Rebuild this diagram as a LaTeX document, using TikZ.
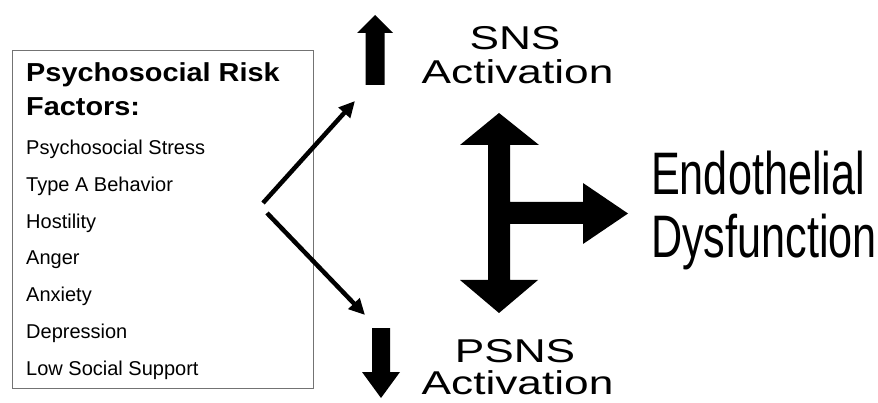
\documentclass[tikz,border=0pt]{standalone}
\usepackage{fontspec}
\setmainfont{Liberation Sans}
\usetikzlibrary{arrows.meta}
\begin{document}
\begin{tikzpicture}[x=1pt,y=-1pt,
  listitem/.style={anchor=base west,inner sep=0pt,font=\fontsize{20}{20}\selectfont},
  titletext/.style={anchor=base west,inner sep=0pt,xscale=1.11,font=\fontsize{26}{26}\selectfont\bfseries},
  acttext/.style={anchor=base,inner sep=0pt,xscale=1.34,font=\fontsize{33}{33}\selectfont},
  endotext/.style={anchor=base west,inner sep=0pt,xscale=0.72,font=\fontsize{60}{60}\selectfont},
  thinarrow/.style={line width=4.5pt,-{Triangle[length=16pt,width=15pt]}},
  fatarrow/.style={fill=black}]
\useasboundingbox (0,0) rectangle (878,403);
\fill[white] (0,0) rectangle (878,403);
% box
\node (box) [draw=black!55,line width=1.3pt,minimum width=301pt,minimum height=338pt,anchor=north west,inner sep=0pt] at (12,50) {};
\node (t1) [titletext] at (26,82) {Psychosocial Risk};
\node (t2) [titletext] at (26,116) {Factors:};
\node (l1) [listitem] at (26,155) {Psychosocial Stress};
\node (l2) [listitem] at (26,191.7) {Type A Behavior};
\node (l3) [listitem] at (26,228.3) {Hostility};
\node (l4) [listitem] at (26,265) {Anger};
\node (l5) [listitem] at (26,301.7) {Anxiety};
\node (l6) [listitem] at (26,338.3) {Depression};
\node (l7) [listitem] at (26,375) {Low Social Support};
% SNS / PSNS texts
\node (sns) [acttext] at (515,50) {SNS};
\node (snsact) [acttext] at (517.5,84) {Activation};
\node (psns) [acttext] at (515,362) {PSNS};
\node (psnsact) [acttext] at (517.5,394) {Activation};
% endothelial
\node (endo1) [endotext] at (651,195) {Endothelial};
\node (endo2) [endotext] at (651,258) {Dysfunction};
% thin arrows
\coordinate (s1) at (263,203);
\coordinate (e1) at (355,101);
\coordinate (s2) at (267,213);
\coordinate (e2) at (365,315);
\draw[thinarrow] (s1) -- (e1);
\draw[thinarrow] (s2) -- (e2);
% up arrow
\coordinate (up) at (375,15);
\fill[fatarrow] (up) -- ++(18,18) -- ++(-8.5,0) -- ++(0,52) -- ++(-19,0) -- ++(0,-52) -- ++(-8.5,0) -- cycle;
% down arrow
\coordinate (down) at (381,398);
\fill[fatarrow] (down) -- ++(19,-26) -- ++(-10,0) -- ++(0,-44) -- ++(-18,0) -- ++(0,44) -- ++(-10,0) -- cycle;
% T arrow
\fill[fatarrow] (499,113) -- (539,145) -- (510,145) -- (510,202) -- (583,202) -- (583,183) -- (628,213.5) -- (583,244) -- (583,224) -- (510,224) -- (510,280) -- (538,280) -- (499,313) -- (460,280) -- (488,280) -- (488,145) -- (460,145) -- cycle;
\end{tikzpicture}
\end{document}
